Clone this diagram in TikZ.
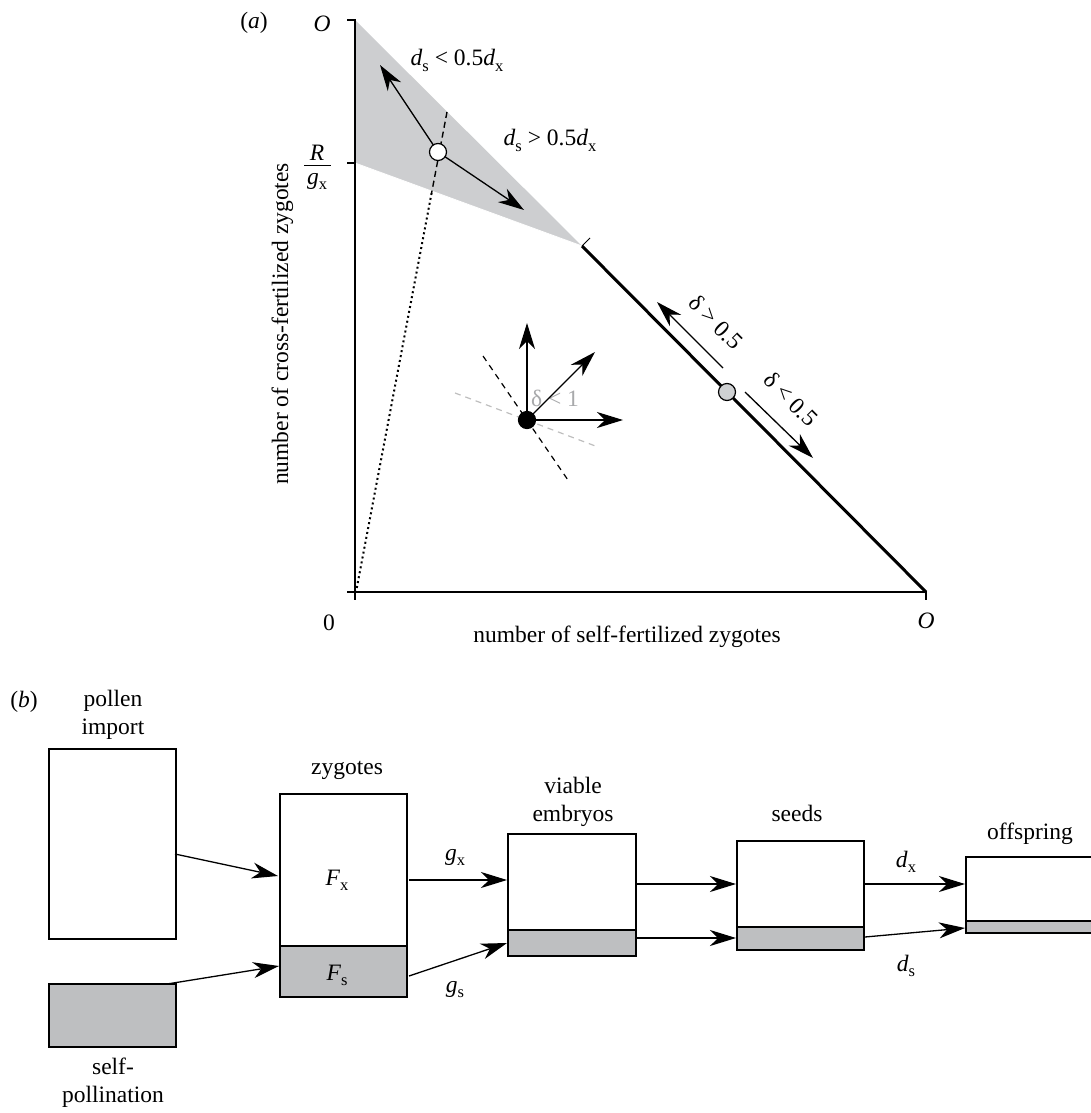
\documentclass[tikz,border=0pt]{standalone}
\usepackage{fontspec}
\setmainfont{Liberation Serif}
\usetikzlibrary{arrows.meta}
\definecolor{boxgray}{RGB}{190,191,193}
\definecolor{shadegray}{RGB}{205,206,208}
\definecolor{ptgray}{RGB}{207,209,211}
\definecolor{txtgray}{RGB}{168,169,171}
\definecolor{lngray}{RGB}{190,190,190}
\newcommand\mysub[1]{\raisebox{-0.22em}{\fontsize{16.5}{16.5}\selectfont #1}}
\begin{document}
\begin{tikzpicture}[x=1pt,y=-1pt,
  every node/.style={font=\fontsize{23.5}{28}\selectfont, inner sep=0pt, outer sep=0pt},
  lbl/.style={anchor=base},
  arr/.style={line width=1.3pt, -{Stealth[length=26pt,width=16pt,inset=8pt]}},
  axisline/.style={line width=1.6pt},
  xaxisline/.style={line width=2pt},
  thickline/.style={line width=3pt},
  dashline/.style={line width=1.4pt, dash pattern=on 6pt off 4pt},
  dotline/.style={line width=2pt, dash pattern=on 2pt off 3pt},
  pt/.style={circle, draw, line width=1.2pt, minimum size=17pt},
  box/.style={draw, line width=1.3pt, minimum width=127pt},
  gbox/.style={box, fill=boxgray},
  gbottom/.style={line width=2.4pt},
]
\useasboundingbox (0,0) rectangle (1090,1113);

% ---------------- panel (a) ----------------
\coordinate (yt) at (355,20);
\coordinate (yr) at (355,163);
\coordinate (kink) at (582,246);
\coordinate (xo) at (926,592);
\coordinate (ytl) at (347,20);
\coordinate (yrl) at (347,163);
\coordinate (ybot) at (355,600);
\coordinate (xl) at (347,592);
\coordinate (xot) at (926,600);
\coordinate (kt) at (590,238);

\fill[shadegray] (yt) -- (kink) -- (yr) -- cycle;
\draw[white, line width=0.8pt] (yr) -- (kink);

\draw[axisline] (ytl) -- (yt) -- (ybot);
\draw[axisline] (yrl) -- (yr);
\draw[xaxisline] (xl) -- (xo) -- (xot);
\draw[thickline] (kink) -- (xo);
\draw[line width=1pt] (kink) -- (kt);

% dashed / dotted ray
\coordinate (dtop) at (447,112);
\coordinate (dmid) at (431.6,193);
\coordinate (dbot) at (356,592);
\draw[dashline] (dtop) -- (dmid);
\draw[dotline] (dmid) -- (dbot);

% open circle with arrows
\node[pt, fill=white] (open) at (438,152) {};
\coordinate (ul) at (380,65);
\coordinate (dr) at (524,210);
\draw[arr] (open) -- (ul);
\draw[arr] (open) -- (dr);

% black dot
\coordinate (bk1) at (483,356);
\coordinate (bk2) at (570,483);
\coordinate (gr1) at (455,393);
\coordinate (gr2) at (598,447);
\draw[lngray, line width=1.2pt, dash pattern=on 6pt off 5pt] (gr1) -- (gr2);
\draw[line width=1.2pt, dash pattern=on 6pt off 5pt] (bk1) -- (bk2);
\node[lbl, text=txtgray] (dl1) at (555,406) {δ < 1};
\node[pt, fill=black] (bd) at (527,420) {};
\coordinate (bup) at (527,323);
\coordinate (bdiag) at (595,352);
\coordinate (bright) at (623,420);
\draw[arr] (bd) -- (bup);
\draw[arr] (bd) -- (bdiag);
\draw[arr] (bd) -- (bright);

% gray point on the edge
\node[pt, fill=ptgray] (gp) at (727,392) {};
\coordinate (a1s) at (723,368);
\coordinate (a1e) at (657,302);
\coordinate (a2s) at (745,392);
\coordinate (a2e) at (813,458);
\draw[arr] (a1s) -- (a1e);
\draw[arr] (a2s) -- (a2e);
\node[rotate=-45] (dg) at (716,322) {δ > 0.5};
\node[rotate=-45] (dlt) at (791,399) {δ < 0.5};

% labels
\node[lbl] (la) at (254,29) {(\textit{a})};
\node[lbl] (otop) at (322,32) {\textit{O}};
\node[lbl] (rr) at (317,160) {\textit{R}};
\coordinate (fb1) at (304,165);
\coordinate (fb2) at (331,165);
\draw[line width=1pt] (fb1) -- (fb2);
\node[lbl] (gg) at (317,184) {\textit{g}\mysub{x}};
\node[lbl] (dsl) at (457,66) {\textit{d}\mysub{s} < 0.5\textit{d}\mysub{x}};
\node[lbl] (dsg) at (550,146) {\textit{d}\mysub{s} > 0.5\textit{d}\mysub{x}};
\node[lbl] (zero) at (329,630) {0};
\node[lbl] (oright) at (926,628) {\textit{O}};
\node[lbl] (xlab) at (627,642) {number of self-fertilized zygotes};
\node[lbl, rotate=90] (ylab) at (288,324) {number of cross-fertilized zygotes};

% ---------------- panel (b) ----------------
\node[lbl] (lb) at (24,707) {(\textit{b})};
\node[lbl] (pl1) at (113,706) {pollen};
\node[lbl] (pl2) at (113,734) {import};
\node[lbl] (sp1) at (113,1074) {self-};
\node[lbl] (sp2) at (113,1102) {pollination};
\node[lbl] (zl) at (347,774) {zygotes};
\node[lbl] (vl1) at (573,793) {viable};
\node[lbl] (vl2) at (573,821) {embryos};
\node[lbl] (sl) at (797,821) {seeds};
\node[lbl] (ol) at (1030,839) {offspring};

\node[box, minimum height=190pt] (pollen) at (112.5,844) {};
\node[gbox, minimum height=63pt] (selfp) at (112.5,1015.5) {};
\node[box, minimum height=152pt] (zx) at (343.5,870) {};
\node[gbox, minimum height=51pt] (zs) at (343.5,971.5) {};
\node[box, minimum width=128pt, minimum height=96pt] (vx) at (572,882) {};
\node[gbox, minimum width=128pt, minimum height=26pt] (vs) at (572,943) {};
\node[box, minimum height=86pt] (sx) at (800.5,884) {};
\node[gbox, minimum height=23pt] (ss) at (800.5,938.5) {};
\node[box, minimum width=134pt, minimum height=64pt] (ox) at (1033,889) {};
\node[gbox, minimum width=134pt, minimum height=12pt] (os) at (1033,927) {};
\draw[gbottom] (zs.south west) -- (zs.south east);
\draw[gbottom] (vs.south west) -- (vs.south east);
\draw[gbottom] (ss.south west) -- (ss.south east);
\draw[gbottom] (os.south west) -- (os.south east);

\node[lbl] (fx) at (337,885) {\textit{F}\mysub{x}};
\node[lbl] (fs) at (337,980) {\textit{F}\mysub{s}};
\node[lbl] (gxl) at (455,860) {\textit{g}\mysub{x}};
\node[lbl] (gsl) at (455,992) {\textit{g}\mysub{s}};
\node[lbl] (dxl) at (906,867) {\textit{d}\mysub{x}};
\node[lbl] (dsl2) at (906,971) {\textit{d}\mysub{s}};

\coordinate (p1) at (175,854);
\coordinate (z1) at (278,876);
\coordinate (s1) at (167,984);
\coordinate (z2) at (279,966);
\coordinate (z3) at (409,880);
\coordinate (v1) at (507,880);
\coordinate (z4) at (409,976);
\coordinate (v2) at (507,943);
\coordinate (v3) at (637,884);
\coordinate (s3) at (736,884);
\coordinate (v4) at (637,938);
\coordinate (s4) at (736,938);
\coordinate (s5) at (865,884);
\coordinate (o1) at (965,884);
\coordinate (s6) at (865,937);
\coordinate (o2) at (965,928);
\draw[arr] (p1) -- (z1);
\draw[arr] (s1) -- (z2);
\draw[arr] (z3) -- (v1);
\draw[arr] (z4) -- (v2);
\draw[arr] (v3) -- (s3);
\draw[arr] (v4) -- (s4);
\draw[arr] (s5) -- (o1);
\draw[arr] (s6) -- (o2);
\end{tikzpicture}
\end{document}
